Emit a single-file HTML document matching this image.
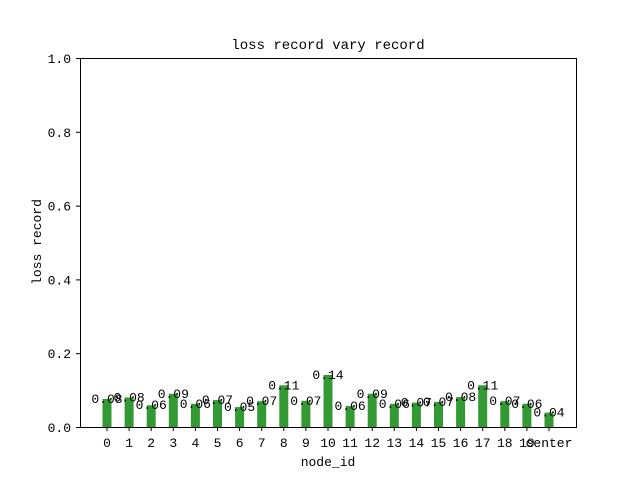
<!DOCTYPE html>
<html><head><meta charset="utf-8"><style>
body{margin:0;background:#fff;}
svg text{font-family:"Liberation Mono","DejaVu Sans Mono",monospace;fill:#000;}
</style></head><body>
<svg id="chart" width="640" height="480" xmlns="http://www.w3.org/2000/svg">
<rect width="640" height="480" fill="#fff"/>
<text x="328" y="49" font-size="14" text-anchor="middle">loss record vary record</text>
<text transform="translate(41,242) rotate(-90)" font-size="13" text-anchor="middle">loss record</text>
<text x="328" y="466" font-size="13" text-anchor="middle">node_id</text>
<g id="marks"></g>
<rect x="80.5" y="58.5" width="496" height="369" fill="none" stroke="#000" stroke-width="1"/>
</svg>
<script>
const categories=["0","1","2","3","4","5","6","7","8","9","10","11","12","13","14","15","16","17","18","19","center"];
const values=[0.076,0.080,0.059,0.090,0.063,0.073,0.054,0.070,0.113,0.071,0.141,0.057,0.090,0.063,0.066,0.068,0.081,0.113,0.070,0.063,0.039];
const yTicks=[0,0.2,0.4,0.6,0.8,1.0];
const NS="http://www.w3.org/2000/svg";
const g=document.getElementById('marks');
const x0=107,step=22.1,yBase=427,yH=369;
function xs(i){return x0+i*step;}
function ys(v){return yBase-v*yH;}
function mk(t,a){const e=document.createElementNS(NS,t);for(const k in a)e.setAttribute(k,a[k]);g.appendChild(e);return e;}
yTicks.forEach(v=>{
  const t=mk('line',{x1:76,x2:80,y1:ys(v)+0.5,y2:ys(v)+0.5,stroke:'#000'});
  
  
  const l=mk('text',{x:71,y:ys(v)+5,'font-size':13,'text-anchor':'end'});
  l.textContent=v.toFixed(1);
  
  
});
categories.forEach((c,i)=>{
  const x=xs(i),v=values[i];
  const b=mk('rect',{x:x-4.5,y:ys(v),width:9,height:v*yH,fill:'#339933'});
  
  
  const t=mk('line',{x1:x,x2:x,y1:427,y2:431,stroke:'#000'});
  
  
  const l=mk('text',{x:x,y:447,'font-size':13,'text-anchor':'middle'});
  l.textContent=c;
  
  
  const vl=mk('text',{x:x,y:ys(v)+4,'font-size':13,'text-anchor':'middle'});
  vl.textContent=v.toFixed(2);
  
  
});
</script>
</body></html>
